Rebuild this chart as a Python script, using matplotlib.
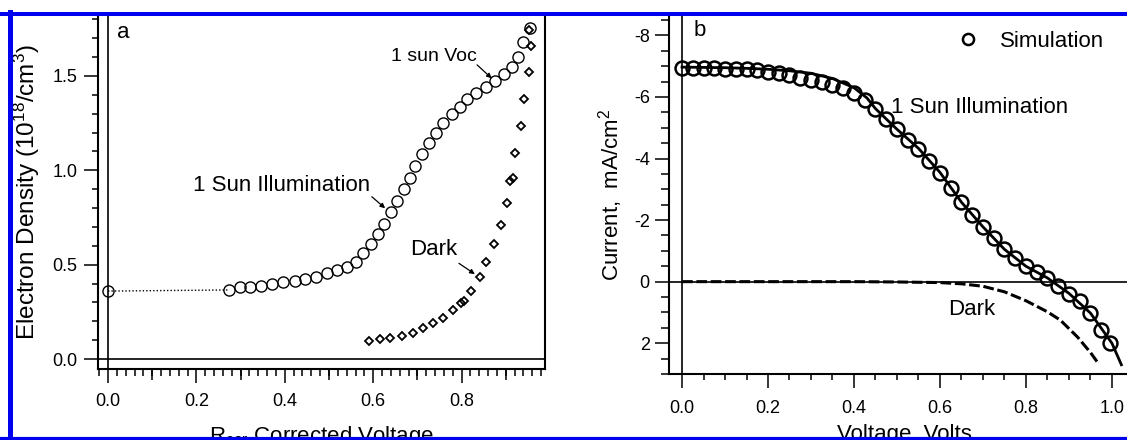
import numpy as np
import matplotlib
matplotlib.use("Agg")
import matplotlib.pyplot as plt
from matplotlib.ticker import MultipleLocator, FormatStrFormatter
from matplotlib.lines import Line2D

# ----------------------------
# FONTS
# ----------------------------
plt.rcParams['font.family'] = ['Liberation Sans', 'DejaVu Sans']
plt.rcParams['mathtext.fontset'] = 'custom'
plt.rcParams['mathtext.rm'] = 'Liberation Sans'
plt.rcParams['mathtext.it'] = 'Liberation Sans:italic'
plt.rcParams['axes.unicode_minus'] = False

# ----------------------------
# DATA  panel a
# ----------------------------
illum_x = [0.0, 0.273, 0.298, 0.322, 0.346, 0.371, 0.397, 0.422, 0.446, 0.471,
           0.495, 0.518, 0.540, 0.560, 0.578, 0.595, 0.610, 0.624, 0.640, 0.654,
           0.669, 0.683, 0.695, 0.711, 0.727, 0.743, 0.759, 0.778, 0.796, 0.813,
           0.833, 0.855, 0.875, 0.895, 0.914, 0.927, 0.940, 0.954]
illum_y = [0.360, 0.366, 0.380, 0.380, 0.389, 0.397, 0.406, 0.413, 0.424, 0.436,
           0.454, 0.472, 0.489, 0.516, 0.560, 0.608, 0.661, 0.715, 0.777, 0.839,
           0.899, 0.961, 1.024, 1.086, 1.143, 1.199, 1.249, 1.297, 1.337, 1.376,
           1.408, 1.440, 1.473, 1.509, 1.549, 1.602, 1.678, 1.755]

dark_x = [0.591, 0.616, 0.639, 0.665, 0.689, 0.713, 0.736, 0.758, 0.780, 0.798,
          0.806, 0.822, 0.841, 0.855, 0.873, 0.890, 0.902, 0.910, 0.917, 0.921,
          0.934, 0.942, 0.952, 0.958, 0.953]
dark_y = [0.097, 0.104, 0.113, 0.122, 0.139, 0.163, 0.189, 0.219, 0.260, 0.295,
          0.309, 0.362, 0.436, 0.516, 0.608, 0.710, 0.825, 0.943, 0.958, 1.090,
          1.235, 1.377, 1.520, 1.657, 1.745]

# ----------------------------
# DATA  panel b
# ----------------------------
sim_v = [0.0, 0.025, 0.05, 0.075, 0.1, 0.125, 0.15, 0.175, 0.2, 0.225,
         0.25, 0.275, 0.3, 0.325, 0.35, 0.375, 0.4, 0.425, 0.45, 0.475,
         0.5, 0.525, 0.55, 0.575, 0.6, 0.625, 0.65, 0.675, 0.7, 0.725,
         0.75, 0.775, 0.8, 0.825, 0.85, 0.875, 0.9, 0.925, 0.95, 0.975, 0.995]
sim_j = [-6.94, -6.94, -6.94, -6.94, -6.92, -6.90, -6.90, -6.87, -6.82, -6.77,
         -6.70, -6.63, -6.56, -6.48, -6.38, -6.28, -6.12, -5.90, -5.60, -5.30,
         -4.95, -4.60, -4.30, -3.92, -3.52, -3.05, -2.58, -2.18, -1.78, -1.42,
         -1.06, -0.78, -0.50, -0.30, -0.12, 0.14, 0.40, 0.64, 1.02, 1.58, 2.00]

light_v = [0.0, 0.05, 0.1, 0.15, 0.2, 0.25, 0.3, 0.35, 0.4, 0.43, 0.45, 0.5,
           0.55, 0.6, 0.65, 0.7, 0.75, 0.8, 0.85, 0.9, 0.95, 1.0, 1.022]
light_j = [-6.97, -6.96, -6.95, -6.93, -6.90, -6.85, -6.77, -6.60, -6.30, -5.97,
           -5.62, -4.95, -4.33, -3.55, -2.58, -1.78, -1.05, -0.50, -0.12, 0.38,
           1.02, 2.00, 2.70]

darkb_v = [0.0, 0.1, 0.2, 0.3, 0.4, 0.5, 0.55, 0.6, 0.65, 0.7, 0.75, 0.8,
           0.85, 0.88, 0.92, 0.95, 0.968]
darkb_j = [0.0, 0.0, 0.0, 0.0, 0.0, 0.01, 0.02, 0.03, 0.07, 0.15, 0.33, 0.62,
           0.98, 1.25, 1.80, 2.30, 2.65]

# ----------------------------
# FIGURE
# ----------------------------
W, H = 1127, 440
fig = plt.figure(figsize=(W / 100, H / 100), dpi=100)

ax_a = fig.add_axes([98 / W, (H - 369) / H, 447 / W, 353 / H])
ax_b = fig.add_axes([668.6 / W, (H - 374) / H, 464.4 / W, 358 / H])

# ----------------------------
# Panel a
# ----------------------------
ax_a.plot(illum_x[:2], illum_y[:2], ls=(0, (1, 1.5)), lw=1, color='k')
ax_a.plot(illum_x, illum_y, 'o', mfc='none', mec='k', ms=8, mew=1)
ax_a.plot(dark_x, dark_y, 'D', mfc='none', mec='k', ms=4.5, mew=1.3)
ax_a.axvline(0, color='k', lw=1.2)
ax_a.axhline(0, color='k', lw=1.2)

ax_a.set_xlim(-0.0226, 0.9887)
ax_a.set_ylim(-0.053, 1.818)

ax_a.xaxis.set_major_locator(MultipleLocator(0.2))
ax_a.xaxis.set_minor_locator(MultipleLocator(0.02))
ax_a.xaxis.set_major_formatter(FormatStrFormatter('%.1f'))
ax_a.yaxis.set_major_locator(MultipleLocator(0.5))
ax_a.yaxis.set_minor_locator(MultipleLocator(0.1))
ax_a.yaxis.set_major_formatter(FormatStrFormatter('%.1f'))

ax_a.tick_params(axis='x', which='major', direction='out', length=10, width=1.1,
                 labelsize=13, pad=7.5)
ax_a.tick_params(axis='x', which='minor', direction='out', length=5, width=1.1)
ax_a.tick_params(axis='y', which='major', direction='out', length=10, width=1.1,
                 labelsize=13, pad=5)
ax_a.tick_params(axis='y', which='minor', direction='out', length=4.5, width=1.1)

# medium ticks at the odd tenths
sec = ax_a.secondary_xaxis('bottom')
sec.set_xticks([0.1, 0.3, 0.5, 0.7, 0.9])
sec.tick_params(length=8, width=1.1, labelbottom=False)
sec.spines['bottom'].set_visible(False)

ax_a.spines['top'].set_visible(False)
for s in ['left', 'right', 'bottom']:
    ax_a.spines[s].set_linewidth(1.5)

ax_a.set_ylabel('Electron Density (10$^{18}$/cm$^{3}$)', fontsize=17.5)
ax_a.yaxis.set_label_coords(-0.126, 0.5)
ax_a.set_xlabel('R$_{\\mathrm{cor}}$ Corrected Voltage', fontsize=16)
ax_a.xaxis.set_label_coords(0.5, -0.156)

ax_a.text(0.02, 1.733, 'a', fontsize=16, ha='left', va='center')

arrow = dict(arrowstyle='-|>', color='k', lw=0.9, mutation_scale=7,
             shrinkA=0, shrinkB=0)
ax_a.text(0.834, 1.602, '1 sun Voc', fontsize=14, ha='right', va='center')
ax_a.annotate('', xy=(0.868, 1.488), xytext=(0.835, 1.559), arrowprops=arrow)
ax_a.text(0.593, 0.922, '1 Sun Illumination', fontsize=16, ha='right', va='center')
ax_a.annotate('', xy=(0.627, 0.799), xytext=(0.597, 0.860), arrowprops=arrow)
ax_a.text(0.79, 0.578, 'Dark', fontsize=16, ha='right', va='center')
ax_a.annotate('', xy=(0.830, 0.450), xytext=(0.794, 0.507), arrowprops=arrow)

# ----------------------------
# Panel b
# ----------------------------
ax_b.plot(darkb_v, darkb_j, color='k', lw=2.2, ls=(0, (3.5, 1.2)))
ax_b.plot(light_v, light_j, color='k', lw=2)
ax_b.plot(sim_v, sim_j, 'o', mfc='none', mec='k', ms=10, mew=1.8, label='Simulation')
ax_b.axvline(0, color='k', lw=1.2)
ax_b.axhline(0, color='k', lw=1.2)

ax_b.set_xlim(-0.0312, 1.049)
ax_b.set_ylim(3.0, -8.63)

ax_b.xaxis.set_major_locator(MultipleLocator(0.2))
ax_b.xaxis.set_minor_locator(MultipleLocator(0.05))
ax_b.xaxis.set_major_formatter(FormatStrFormatter('%.1f'))
ax_b.yaxis.set_major_locator(MultipleLocator(2))
ax_b.yaxis.set_minor_locator(MultipleLocator(0.5))
ax_b.yaxis.set_major_formatter(FormatStrFormatter('%d'))

ax_b.tick_params(axis='x', which='major', direction='out', length=10, width=1.1,
                 labelsize=13, pad=8.4)
ax_b.tick_params(axis='x', which='minor', direction='out', length=4.5, width=1.1)
ax_b.tick_params(axis='y', which='major', direction='out', length=10, width=1.1,
                 labelsize=13, pad=3.5)
ax_b.tick_params(axis='y', which='minor', direction='out', length=6, width=1.1)

ax_b.spines['top'].set_visible(False)
ax_b.spines['right'].set_visible(False)
for s in ['left', 'bottom']:
    ax_b.spines[s].set_linewidth(1.5)

ax_b.set_ylabel('Current,  mA/cm$^{2}$', fontsize=16)
ax_b.yaxis.set_label_coords(-0.094, 0.5)
ax_b.set_xlabel('Voltage, Volts', fontsize=16)
ax_b.xaxis.set_label_coords(0.507, -0.140)

ax_b.text(0.026, -8.17, 'b', fontsize=16, ha='left', va='center')
ax_b.text(0.487, -5.67, '1 Sun Illumination', fontsize=16, ha='left', va='center')
ax_b.text(0.618, 0.92, 'Dark', fontsize=16, ha='left', va='center')

ax_b.legend(loc='center left', bbox_to_anchor=(0.620, 0.928), frameon=False,
            fontsize=16, numpoints=1, markerscale=0.8, handlelength=1.0,
            handletextpad=0.95, borderpad=0, borderaxespad=0)

# ----------------------------
# Blue frame
# ----------------------------
blue = '#0000f0'
fig.add_artist(Line2D([0, 1], [1 - 14 / H] * 2, transform=fig.transFigure,
                      color=blue, lw=2.9))
fig.add_artist(Line2D([0, 1], [1 - 438.5 / H] * 2, transform=fig.transFigure,
                      color=blue, lw=3))
fig.add_artist(Line2D([9.5 / W] * 2, [0, 1 - 12 / H], transform=fig.transFigure,
                      color=blue, lw=3.6))

fig.savefig("out.png", dpi=100)
